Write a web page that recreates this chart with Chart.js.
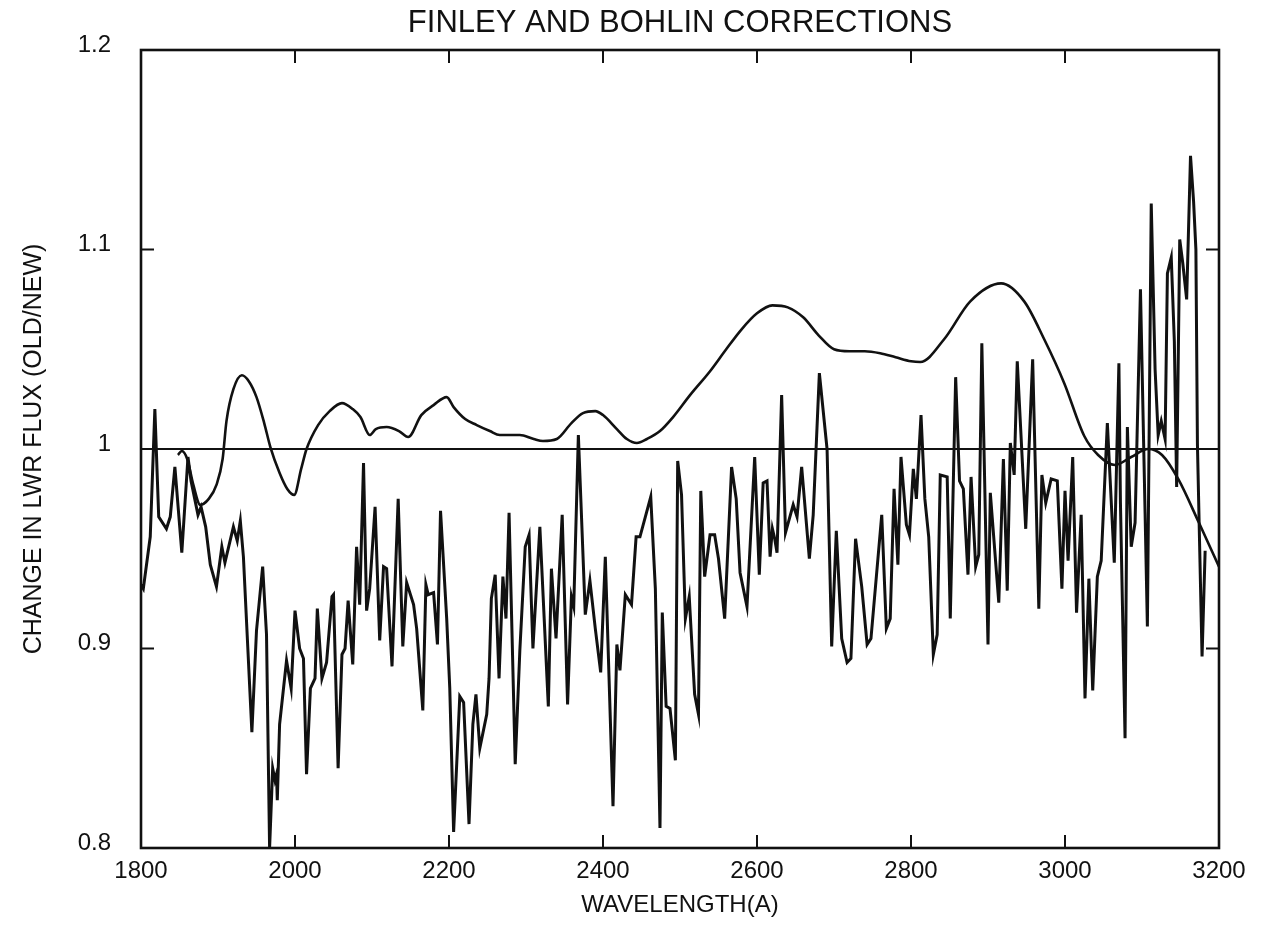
<!DOCTYPE html>
<html>
<head>
<meta charset="utf-8">
<title>Finley and Bohlin corrections</title>
<script src="https://cdn.jsdelivr.net/npm/chart.js@4.4.0/dist/chart.umd.min.js"></script>
<style>
  html, body { margin: 0; padding: 0; background: #fff; }
  #wrap { width: 1267px; height: 929px; }
</style>
</head>
<body>
<div id="wrap"><canvas id="chart" width="1267" height="929"></canvas></div>
<script>
// ratio old/new, noisy spectrum
const noisyWl = [
  1800, 1803, 1812, 1818, 1823, 1833, 1838, 1844, 1853, 1861, 1865, 1874, 1878, 1884, 1890, 1898,
  1905, 1909, 1920, 1925, 1929, 1933, 1944, 1950, 1958, 1963, 1967, 1971, 1974, 1976, 1977, 1980,
  1989, 1995, 2000, 2006, 2011, 2015, 2020, 2026, 2029, 2035, 2041, 2048, 2050, 2056, 2061, 2065,
  2069, 2075, 2080, 2084, 2089, 2093, 2097, 2104, 2110, 2115, 2119, 2126, 2134, 2140, 2145, 2154,
  2158, 2166, 2170, 2173, 2180, 2185, 2189, 2197, 2201, 2206, 2214, 2219, 2226, 2231, 2235, 2240,
  2249, 2252, 2255, 2260, 2265, 2270, 2274, 2278, 2286, 2292, 2299, 2304, 2309, 2318, 2329, 2333,
  2339, 2347, 2354, 2359, 2362, 2368, 2377, 2383, 2390, 2397, 2403, 2413, 2418, 2422, 2429, 2437,
  2443, 2448, 2462, 2468, 2474, 2477, 2482, 2487, 2494, 2497, 2502, 2507, 2512, 2515, 2519, 2524,
  2527, 2532, 2539, 2545, 2550, 2558, 2567, 2573, 2578, 2587, 2597, 2603, 2608, 2613, 2617, 2620,
  2623, 2626, 2632, 2637, 2647, 2652, 2658, 2668, 2673, 2681, 2691, 2697, 2703, 2710, 2717, 2722,
  2728, 2736, 2743, 2748, 2762, 2768, 2773, 2778, 2783, 2787, 2794, 2798, 2803, 2807, 2813, 2818,
  2823, 2829, 2834, 2838, 2847, 2851, 2858, 2863, 2868, 2874, 2878, 2884, 2888, 2892, 2900, 2903,
  2914, 2920, 2925, 2929, 2934, 2938, 2949, 2958, 2966, 2970, 2975, 2982, 2990, 2996, 3000, 3004,
  3010, 3015, 3021, 3026, 3031, 3036, 3042, 3047, 3055, 3064, 3070, 3072, 3078, 3081, 3086, 3091,
  3098, 3104, 3107, 3112, 3117, 3121, 3125, 3130, 3133, 3138, 3142, 3145, 3149, 3153, 3158, 3163,
  3167, 3170, 3172, 3178, 3182
];
const noisyVal = [
  0.932, 0.930, 0.956, 1.020, 0.966, 0.960, 0.966, 0.991, 0.948, 0.996, 0.984, 0.967, 0.971, 0.961, 0.942, 0.931,
  0.951, 0.943, 0.961, 0.954, 0.964, 0.946, 0.858, 0.909, 0.941, 0.907, 0.800, 0.840, 0.834, 0.837, 0.824, 0.862,
  0.894, 0.880, 0.919, 0.900, 0.895, 0.837, 0.880, 0.885, 0.920, 0.885, 0.893, 0.926, 0.927, 0.840, 0.897, 0.900,
  0.924, 0.892, 0.951, 0.922, 0.993, 0.919, 0.930, 0.971, 0.904, 0.941, 0.940, 0.891, 0.975, 0.901, 0.933, 0.922,
  0.910, 0.869, 0.932, 0.927, 0.928, 0.902, 0.969, 0.915, 0.880, 0.808, 0.876, 0.873, 0.812, 0.862, 0.877, 0.850,
  0.867, 0.885, 0.925, 0.937, 0.885, 0.936, 0.915, 0.968, 0.842, 0.899, 0.951, 0.957, 0.900, 0.961, 0.871, 0.940,
  0.905, 0.967, 0.872, 0.926, 0.921, 1.007, 0.917, 0.934, 0.910, 0.888, 0.946, 0.821, 0.902, 0.889, 0.927, 0.922,
  0.956, 0.956, 0.976, 0.930, 0.810, 0.918, 0.871, 0.870, 0.844, 0.994, 0.977, 0.915, 0.926, 0.905, 0.877, 0.867,
  0.979, 0.936, 0.957, 0.957, 0.945, 0.915, 0.991, 0.975, 0.938, 0.921, 0.996, 0.937, 0.983, 0.984, 0.946, 0.960,
  0.955, 0.948, 1.027, 0.958, 0.972, 0.966, 0.991, 0.945, 0.967, 1.038, 1.000, 0.901, 0.959, 0.905, 0.893, 0.895,
  0.955, 0.931, 0.902, 0.905, 0.967, 0.910, 0.915, 0.980, 0.942, 0.996, 0.962, 0.957, 0.990, 0.975, 1.017, 0.975,
  0.956, 0.897, 0.907, 0.987, 0.986, 0.915, 1.036, 0.984, 0.980, 0.937, 0.986, 0.941, 0.947, 1.053, 0.902, 0.978,
  0.923, 0.995, 0.929, 1.003, 0.987, 1.044, 0.960, 1.045, 0.920, 0.987, 0.973, 0.985, 0.984, 0.930, 0.979, 0.944,
  0.996, 0.918, 0.967, 0.875, 0.935, 0.879, 0.936, 0.944, 1.013, 0.943, 1.043, 0.973, 0.855, 1.011, 0.951, 0.963,
  1.080, 0.968, 0.911, 1.123, 1.040, 1.007, 1.014, 1.005, 1.088, 1.096, 1.054, 0.981, 1.105, 1.093, 1.075, 1.147,
  1.124, 1.100, 1.002, 0.896, 0.949
];

// smooth correction curve
const smoothWl = [
  1848, 1853, 1860, 1868, 1877, 1888, 1898, 1906, 1911, 1920, 1931, 1940, 1950, 1960, 1968, 1980,
  1990, 1999, 2008, 2015, 2030, 2045, 2061, 2075, 2085, 2097, 2105, 2119, 2135, 2147, 2164, 2180,
  2197, 2206, 2221, 2236, 2253, 2266, 2292, 2310, 2322, 2340, 2359, 2374, 2390, 2400, 2418, 2431,
  2444, 2457, 2474, 2491, 2513, 2539, 2560, 2580, 2600, 2620, 2640, 2660, 2680, 2700, 2720, 2740,
  2760, 2780, 2800, 2812, 2843, 2877, 2917, 2947, 2973, 2999, 3025, 3043, 3065, 3086, 3108, 3126,
  3147, 3174, 3200
];
const smoothVal = [
  0.997, 0.999, 0.995, 0.982, 0.972, 0.975, 0.982, 0.995, 1.014, 1.030, 1.037, 1.034, 1.026, 1.013, 1.001, 0.988,
  0.980, 0.977, 0.990, 1.000, 1.012, 1.019, 1.023, 1.020, 1.016, 1.007, 1.010, 1.011, 1.009, 1.006, 1.017, 1.022,
  1.026, 1.021, 1.015, 1.012, 1.009, 1.007, 1.007, 1.005, 1.004, 1.005, 1.013, 1.018, 1.019, 1.017, 1.010, 1.005,
  1.003, 1.005, 1.009, 1.016, 1.027, 1.039, 1.050, 1.060, 1.068, 1.072, 1.071, 1.066, 1.057, 1.050, 1.049, 1.049,
  1.048, 1.046, 1.044, 1.0436, 1.055, 1.074, 1.083, 1.074, 1.055, 1.033, 1.0065, 0.997, 0.992, 0.996, 1.000, 0.997,
  0.985, 0.963, 0.941
];

// unity reference
const refWl = [1800, 3200];
const refVal = [1, 1];

const xTicks = [1800, 2000, 2200, 2400, 2600, 2800, 3000, 3200];
const yTicks = [0.8, 0.9, 1.0, 1.1, 1.2];

const toPoints = (xs, ys) => xs.map((x, i) => ({ x, y: ys[i] }));

const FONT = '"Liberation Sans", Arial, Helvetica, sans-serif';
const INK = '#111';

// box round the plot and inward ticks on all four sides
const frame = {
  id: 'frame',
  afterDatasetsDraw(chart) {
    const { ctx, chartArea: a, scales } = chart;
    const len = 13;
    ctx.save();
    ctx.strokeStyle = INK;
    ctx.lineWidth = 2.6;
    ctx.strokeRect(a.left, a.top, a.right - a.left, a.bottom - a.top);
    ctx.lineWidth = 2;
    ctx.beginPath();
    xTicks.slice(1, -1).forEach(v => {
      const px = scales.x.getPixelForValue(v);
      ctx.moveTo(px, a.bottom); ctx.lineTo(px, a.bottom - len);
      ctx.moveTo(px, a.top); ctx.lineTo(px, a.top + len);
    });
    yTicks.slice(1, -1).forEach(v => {
      const py = scales.y.getPixelForValue(v);
      ctx.moveTo(a.left, py); ctx.lineTo(a.left + len, py);
      ctx.moveTo(a.right, py); ctx.lineTo(a.right - len, py);
    });
    ctx.stroke();
    ctx.restore();
  },
};

new Chart(document.getElementById('chart'), {
  type: 'line',
  data: {
    datasets: [
      {
        data: toPoints(refWl, refVal),
        borderColor: INK,
        borderWidth: 2.2,
        pointRadius: 0,
      },
      {
        data: toPoints(smoothWl, smoothVal),
        borderColor: INK,
        borderWidth: 2.6,
        pointRadius: 0,
        cubicInterpolationMode: 'monotone',
      },
      {
        data: toPoints(noisyWl, noisyVal),
        borderColor: INK,
        borderWidth: 3,
        pointRadius: 0,
        tension: 0,
      },
    ],
  },
  options: {
    responsive: false,
    animation: false,
    events: [],
    layout: { padding: { left: 0, right: 48, top: 0, bottom: 0 } },
    plugins: {
      legend: { display: false },
      tooltip: { enabled: false },
      title: {
        display: true,
        fullSize: false,
        text: 'FINLEY AND BOHLIN CORRECTIONS',
        color: INK,
        font: { family: FONT, size: 31, weight: 'normal' },
        padding: { top: 5, bottom: 7.8 },
      },
    },
    scales: {
      x: {
        type: 'linear',
        min: 1800,
        max: 3200,
        afterFit: s => { s.height = 81; },
        afterBuildTicks: s => { s.ticks = xTicks.map(v => ({ value: v })); },
        grid: { display: false, drawTicks: false },
        border: { display: false },
        ticks: {
          color: INK,
          padding: 9,
          maxRotation: 0,
          font: { family: FONT, size: 24 },
          callback: v => String(v),
        },
        title: {
          display: true,
          text: 'WAVELENGTH(A)',
          color: INK,
          font: { family: FONT, size: 24 },
          padding: { top: 0, bottom: 9 },
        },
      },
      y: {
        type: 'linear',
        min: 0.8,
        max: 1.2,
        afterFit: s => { s.width = 141; },
        afterBuildTicks: s => { s.ticks = yTicks.map(v => ({ value: v })); },
        grid: { display: false, drawTicks: false },
        border: { display: false },
        ticks: {
          color: INK,
          padding: 30,
          labelOffset: -5,
          font: { family: FONT, size: 24 },
          callback: v => String(Number(v.toFixed(1))),
        },
        title: {
          display: true,
          text: 'CHANGE IN LWR FLUX (OLD/NEW)',
          color: INK,
          font: { family: FONT, size: 25 },
          padding: { top: 19, bottom: 0 },
        },
      },
    },
  },
  plugins: [frame],
});
</script>
</body>
</html>
